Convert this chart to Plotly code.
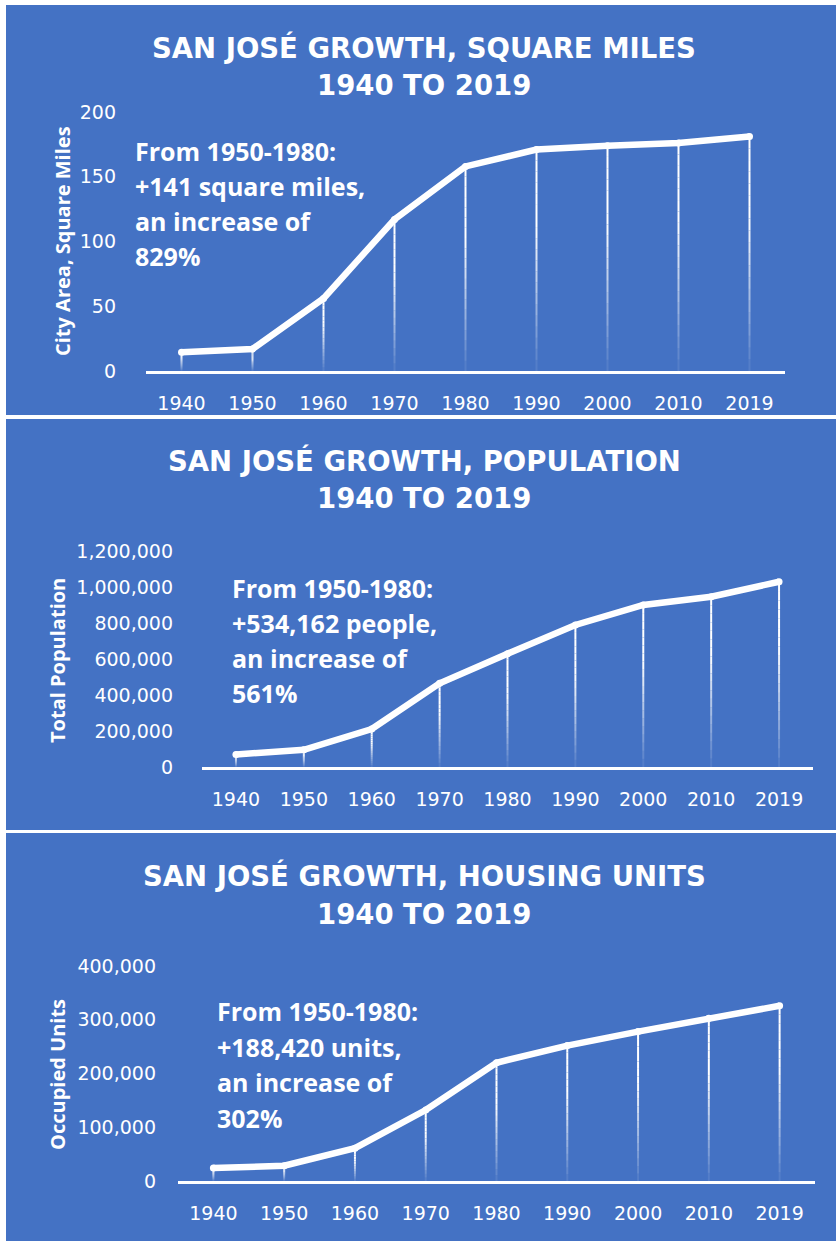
import plotly.graph_objects as go

# ---------------- data ----------------
years = ["1940", "1950", "1960", "1970", "1980", "1990", "2000", "2010", "2019"]

area_sq_miles = [14.5, 17, 56, 117, 158, 171, 174, 176, 181]
population = [70000, 95280, 211000, 465000, 629442, 789000, 900000, 946000, 1029000]
housing_units = [24000, 28500, 61000, 132000, 220000, 252000, 278000, 303000, 326000]

titles = ["SAN JOSÉ GROWTH, SQUARE MILES", "SAN JOSÉ GROWTH, POPULATION", "SAN JOSÉ GROWTH, HOUSING UNITS"]
subtitle = "1940 TO 2019"
axis_titles = ["City Area, Square Miles", "Total Population", "Occupied Units"]
notes = [
    ["From 1950-1980:", "+141 square miles,", "an increase of", "829%"],
    ["From 1950-1980:", "+534,162 people,", "an increase of", "561%"],
    ["From 1950-1980:", "+188,420 units,", "an increase of", "302%"],
]
y_ranges = [[0, 200], [0, 1200000], [0, 400000]]
y_dtick = [50, 200000, 100000]
series = [area_sq_miles, population, housing_units]

# ---------------- layout helpers ----------------
W, H = 836, 1241
BLUE = "rgb(68,114,196)"
WHITE = "white"
FONT = "Open Sans"
TICKFONT = "DejaVu Sans"
TITLEFONT = "DejaVu Sans"


def px(x):
    return x / W


def py(y):
    return 1 - y / H


# plot areas in pixel coords: (left, right, top, bottom)
areas = [(146, 785, 112, 371), (202, 813, 551, 767), (178, 815, 966, 1181)]
panels = [(5, 415), (419, 830), (833, 1241)]
title_y = [(47, 85), (461, 498), (875, 914)]
note_pos = [(133, [151, 186, 221, 256]), (230, [588, 623, 658, 693]), (215, [1011, 1047, 1082, 1118])]
axis_title_pos = [(62, 241), (57, 660), (57, 1074)]
ytick_standoff = [29, 28, 21]

fig = go.Figure()
layout = dict(
    width=W, height=H,
    margin=dict(l=0, r=0, t=0, b=0, pad=0, autoexpand=False),
    paper_bgcolor="white",
    plot_bgcolor="rgba(0,0,0,0)",
    showlegend=False,
    shapes=[],
    annotations=[],
)

N_SEG = 20
for p in range(3):
    xa = "x" if p == 0 else f"x{p+1}"
    ya = "y" if p == 0 else f"y{p+1}"
    xkey = "xaxis" if p == 0 else f"xaxis{p+1}"
    ykey = "yaxis" if p == 0 else f"yaxis{p+1}"
    l, r, t, b = areas[p]
    vals = series[p]

    # gradient drop lines: solid at top, fading towards the axis
    for k in range(N_SEG):
        f_top = 1 - k / N_SEG
        f_bot = 1 - (k + 1) / N_SEG
        frac = (k + 0.5) / N_SEG
        if frac < 0.35:
            alpha = 1.0
        else:
            alpha = 1.0 - (frac - 0.35) / 0.65 * 0.95
        xs, ys = [], []
        for yr, v in zip(years, vals):
            xs += [yr, yr, None]
            ys += [v * f_top, v * f_bot, None]
        fig.add_trace(go.Scatter(
            x=xs, y=ys, xaxis=xa, yaxis=ya, mode="lines",
            line=dict(color=f"rgba(255,255,255,{alpha:.3f})", width=2),
            hoverinfo="skip",
        ))

    # main line
    fig.add_trace(go.Scatter(
        x=years, y=vals, xaxis=xa, yaxis=ya, mode="lines+markers",
        line=dict(color=WHITE, width=6.5),
        marker=dict(color=WHITE, size=7),
    ))

    layout[xkey] = dict(
        domain=[px(l), px(r)], anchor=ya, type="category",
        categoryorder="array", categoryarray=years,
        range=[-0.5, 8.5], showgrid=False, zeroline=False,
        showline=True, linecolor=WHITE, linewidth=2.5,
        ticks="", ticklabelstandoff=13, automargin=False,
        tickfont=dict(family=TICKFONT, size=19, color=WHITE),
        fixedrange=True,
    )
    layout[ykey] = dict(
        domain=[py(b), py(t)], anchor=xa, range=y_ranges[p],
        dtick=y_dtick[p], tick0=0, showgrid=False, zeroline=False,
        showline=False, ticks="", tickformat=",d", automargin=False,
        ticklabelstandoff=ytick_standoff[p],
        tickfont=dict(family=TICKFONT, size=19, color=WHITE),
        fixedrange=True,
    )

    # panel background
    pt, pb = panels[p]
    layout["shapes"].append(dict(
        type="rect", xref="paper", yref="paper",
        x0=px(6), x1=1, y0=py(pb), y1=py(pt),
        fillcolor=BLUE, line=dict(width=0), layer="below",
    ))

    # titles
    for txt, yy in zip([titles[p], subtitle], title_y[p]):
        layout["annotations"].append(dict(
            text=f"<b>{txt}</b>", xref="paper", yref="paper",
            x=px(424), y=py(yy), xanchor="center", yanchor="middle",
            showarrow=False, font=dict(family=TITLEFONT, size=27.5, color=WHITE),
        ))

    # note text
    nx, nys = note_pos[p]
    for txt, yy in zip(notes[p], nys):
        layout["annotations"].append(dict(
            text=f"<b>{txt}</b>", xref="paper", yref="paper",
            x=px(nx), y=py(yy), xanchor="left", yanchor="middle",
            showarrow=False, font=dict(family=FONT, size=25, color=WHITE),
        ))

    # axis title
    ax, ay = axis_title_pos[p]
    layout["annotations"].append(dict(
        text=f"<b>{axis_titles[p]}</b>", xref="paper", yref="paper",
        x=px(ax), y=py(ay), xanchor="center", yanchor="middle",
        textangle=-90, showarrow=False,
        font=dict(family=FONT, size=20, color=WHITE),
    ))

fig.update_layout(**layout)
fig.write_html(
    "out.html",
    config={"displayModeBar": False},
    post_script="document.body.style.margin='0';document.body.style.overflow='hidden';",
)
